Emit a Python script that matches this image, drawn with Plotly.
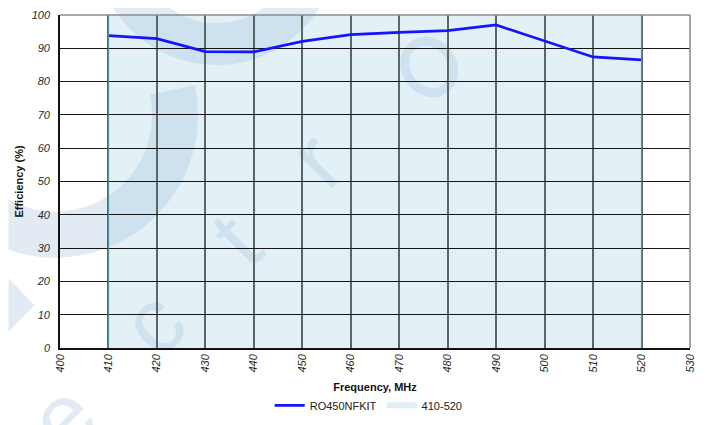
import base64
import plotly.graph_objects as go

# ---- data ----
freq_mhz = [410, 420, 430, 440, 450, 460, 470, 480, 490, 500, 510, 520]
efficiency = [93.8, 92.9, 89.0, 88.9, 92.1, 94.1, 94.8, 95.3, 97.0, 92.1, 87.4, 86.5]
series_name = "RO450NFKIT"
band_name = "410-520"
band_range = [410, 520]
x_ticks = [400, 410, 420, 430, 440, 450, 460, 470, 480, 490, 500, 510, 520, 530]
y_ticks = [0, 10, 20, 30, 40, 50, 60, 70, 80, 90, 100]

# page body has an 8px margin, so the figure is sized to end at the window edge
OFF = 8
W, H = 726 - OFF, 425 - OFF
ML, MT = 59.5 - OFF, 15 - OFF
PW, PH = 630.5, 333
MR, MB = W - ML - PW, H - MT - PH

# ---- faint watermark (decoration), drawn in window coordinates ----
wm = "#e2ebf4"
svg = f"""<svg xmlns='http://www.w3.org/2000/svg' width='{W}' height='{H}' viewBox='{OFF} {OFF} {W} {H}' preserveAspectRatio='none'>
<g fill='none' stroke='{wm}'>
<circle cx='216' cy='-57' r='101' stroke-width='42'/>
<path d='M 172 90 A 118 118 0 0 1 -62 140' stroke-width='46'/>
</g>
<polygon points='0,270 34,305 0,340' fill='{wm}'/>
<g fill='{wm}' font-family='Liberation Sans, Arial, sans-serif' font-size='92' text-anchor='middle'>
<text transform='translate(84,440) rotate(-45)'>e</text>
<text transform='translate(175,345) rotate(-45)'>c</text>
<text transform='translate(258,262) rotate(-45)'>t</text>
<text transform='translate(338,182) rotate(-45)'>r</text>
</g>
<ellipse cx='429' cy='67' rx='23' ry='27' transform='rotate(-35 429 67)' fill='none' stroke='{wm}' stroke-width='9'/>
</svg>"""
svg_uri = "data:image/svg+xml;base64," + base64.b64encode(svg.encode()).decode()

fig = go.Figure()

fig.add_trace(go.Scatter(
    x=freq_mhz, y=efficiency, mode="lines", name=series_name,
    line=dict(color="#1414ff", width=2.7),
))
fig.add_trace(go.Scatter(
    x=[None], y=[None], mode="lines", name=band_name,
    line=dict(color="#e2eff5", width=6),
))

# shaded band 410-520
fig.add_shape(type="rect", xref="x", yref="y",
              x0=band_range[0], x1=band_range[1], y0=y_ticks[0], y1=y_ticks[-1],
              fillcolor="rgba(150,200,222,0.27)", line=dict(width=0), layer="below")
for xv in band_range:
    fig.add_shape(type="line", xref="x", yref="y", x0=xv, x1=xv,
                  y0=y_ticks[0], y1=y_ticks[-1],
                  line=dict(color="#4f8f9c", width=1.2), layer="above")
# top and right frame (grey)
fig.add_shape(type="line", xref="paper", yref="paper", x0=0, x1=1, y0=1, y1=1,
              line=dict(color="#8c8c8c", width=1.6), layer="above")
fig.add_shape(type="line", xref="paper", yref="paper", x0=1, x1=1, y0=0, y1=1,
              line=dict(color="#8c8c8c", width=1.6), layer="above")

fig.add_layout_image(dict(
    source=svg_uri, xref="paper", yref="paper",
    x=-ML / PW, y=1 + MT / PH, sizex=W / PW, sizey=H / PH,
    xanchor="left", yanchor="top", sizing="stretch", layer="below", opacity=1,
))

tickfont = dict(family="Liberation Sans, Arial, sans-serif", size=11, color="#2a2a2a", style="italic")

fig.update_layout(
    width=W, height=H,
    margin=dict(l=ML, r=MR, t=MT, b=MB, pad=0, autoexpand=False),
    paper_bgcolor="white",
    plot_bgcolor="rgba(0,0,0,0)",
    font=dict(family="Liberation Sans, Arial, sans-serif", size=11, color="#222222"),
    showlegend=True,
    legend=dict(orientation="h", x=0.49, xanchor="center", y=-0.172, yanchor="middle",
                font=dict(size=11, color="#222222"), itemwidth=30,
                bgcolor="rgba(0,0,0,0)", tracegroupgap=0),
    xaxis=dict(
        range=[x_ticks[0], x_ticks[-1]], tickmode="array", tickvals=x_ticks,
        ticktext=[str(v) for v in x_ticks], tickangle=-90, tickfont=tickfont,
        ticks="", showgrid=True, gridcolor="#5a6668", gridwidth=1.7,
        showline=True, linecolor="#111111", linewidth=1.6, zeroline=False,
        automargin=False,
        title=dict(text="Frequency, MHz", standoff=12,
                   font=dict(size=11, color="#111111", weight="bold")),
        fixedrange=True,
    ),
    yaxis=dict(
        range=[y_ticks[0], y_ticks[-1]], tickmode="array", tickvals=y_ticks,
        tickfont=tickfont, ticks="", ticklabelstandoff=6,
        showgrid=True, gridcolor="#141414", gridwidth=1.1,
        showline=True, linecolor="#111111", linewidth=1.6, zeroline=False,
        automargin=False,
        title=dict(text="Efficiency (%)", standoff=6,
                   font=dict(size=11, color="#111111", weight="bold")),
        fixedrange=True,
    ),
)

fig.write_html("out.html", config={"displayModeBar": False})
